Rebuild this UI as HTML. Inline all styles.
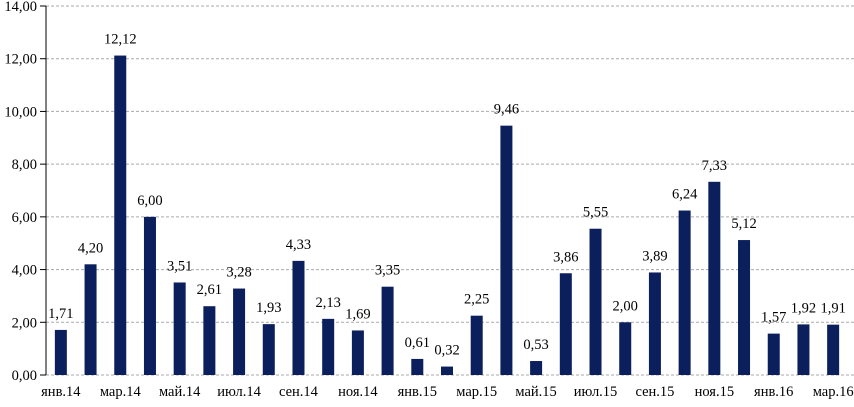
<!DOCTYPE html>
<html><head><meta charset="utf-8"><style>
body{margin:0;background:#fff;width:854px;height:402px;overflow:hidden}
text{font-family:"Liberation Serif",serif;font-size:14.5px;fill:#000}
</style></head><body>
<svg id="c" width="854" height="402"></svg>
<script>
const categories=["янв.14","фев.14","мар.14","апр.14","май.14","июн.14","июл.14","авг.14","сен.14","окт.14","ноя.14","дек.14","янв.15","фев.15","мар.15","апр.15","май.15","июн.15","июл.15","авг.15","сен.15","окт.15","ноя.15","дек.15","янв.16","фев.16","мар.16"];
const values=[1.71,4.20,12.12,6.00,3.51,2.61,3.28,1.93,4.33,2.13,1.69,3.35,0.61,0.32,2.25,9.46,0.53,3.86,5.55,2.00,3.89,6.24,7.33,5.12,1.57,1.92,1.91];
const yTicks=[0,2,4,6,8,10,12,14];
const svg=document.getElementById('c');const NS='http://www.w3.org/2000/svg';
const x0=46,x1=848,y0=375,yTop=6,ymax=14;
const bw=(x1-x0)/categories.length;
const Y=v=>y0-(v/ymax)*(y0-yTop);
const X=i=>x0+bw*(i+0.5);
function mk(t,a){const e=document.createElementNS(NS,t);for(const k in a)e.setAttribute(k,a[k]);svg.appendChild(e);return e;}
const fmt=v=>v.toFixed(2).replace('.',',');
yTicks.forEach(t=>{
 let g=mk('line',{x1:x0,x2:x1+6,y1:Y(t),y2:Y(t),stroke:'#aaa','stroke-dasharray':'3,2'});
 
 
 let tk=mk('line',{x1:x0-6,x2:x0,y1:Y(t),y2:Y(t),stroke:'#000'});
 
 
 let l=mk('text',{x:x0-9,y:Y(t)+5,'text-anchor':'end'});l.textContent=fmt(t);
 
 
});
let ax=mk('line',{x1:x0,x2:x0,y1:yTop,y2:y0,stroke:'#000'});


values.forEach((v,i)=>{
 let r=mk('rect',{x:X(i)-6,y:Y(v),width:12,height:y0-Y(v),fill:'#0a1f5c'});
 
 
 let l=mk('text',{x:X(i),y:Y(v)-12,'text-anchor':'middle'});l.textContent=fmt(v);
 
 
 if(i%2==0){let c=mk('text',{x:X(i),y:396,'text-anchor':'middle'});c.textContent=categories[i];
 
 }
});
</script>
</body></html>
